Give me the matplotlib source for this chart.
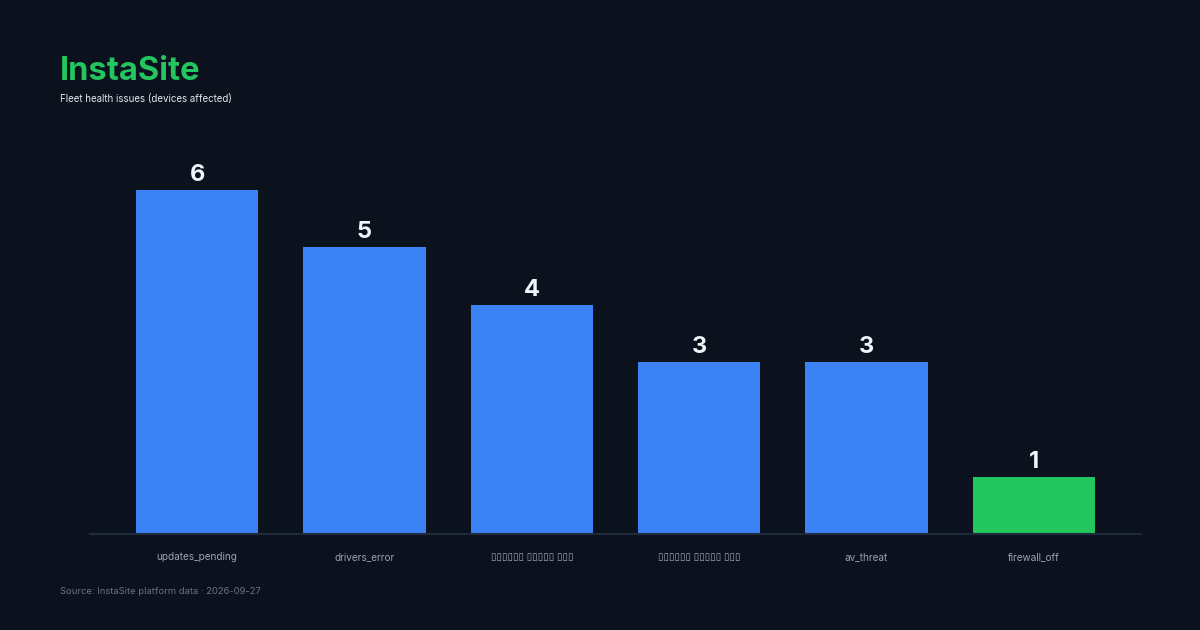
import matplotlib.pyplot as plt

# Dados do gráfico:
categories = ['updates_pending', 'drivers_error', '▯▯▯▯▯▯ ▯▯▯▯▯ ▯▯▯',
              '▯▯▯▯▯▯ ▯▯▯▯▯ ▯▯▯', 'av_threat', 'firewall_off']
values = [6, 5, 4, 3, 3, 1]
highlight = 'firewall_off'

title = 'InstaSite'
subtitle = 'Fleet health issues (devices affected)'
source = 'Source: InstaSite platform data · 2026-09-27'

# Cores:
bg = '#0b121e'
blue = '#3b82f6'
green = '#22c55e'

plt.rcParams['font.family'] = ['Inter', 'DejaVu Sans']

fig = plt.figure(figsize=(12, 6.3), dpi=100, facecolor=bg)
ax = fig.add_axes([0.075, 0.1524, 0.8758, 0.6096])
ax.set_facecolor(bg)

colors = [green if c == highlight else blue for c in categories]
x = range(len(categories))
bars = ax.bar(x, values, width=0.73, color=colors, zorder=2)

for b, v in zip(bars, values):
    ax.annotate(str(v), (b.get_x() + b.get_width() / 2, v),
                xytext=(0, 3), textcoords='offset points',
                ha='center', va='bottom', color='#f1f5f9',
                fontsize=17, fontweight='bold')

ax.set_xlim(-0.64, 5.64)
ax.set_ylim(0, 6.7)
ax.set_xticks(list(x))
ax.set_xticklabels(categories, color='#9ca3af', fontsize=7.2)
ax.tick_params(axis='x', length=0, pad=13)
ax.set_yticks([])
for s in ['top', 'right', 'left']:
    ax.spines[s].set_visible(False)
ax.spines['bottom'].set_color('#1f2a3d')
ax.spines['bottom'].set_linewidth(1.5)

fig.text(0.05, 0.873, title, color=green, fontsize=23.5, fontweight='bold',
         va='baseline')
fig.text(0.05, 0.838, subtitle, color='#e5e7eb', fontsize=7, va='baseline')
fig.text(0.05, 0.057, source, color='#6b7280', fontsize=6.8, va='baseline')

plt.savefig('out.png', dpi=100, facecolor=bg)
